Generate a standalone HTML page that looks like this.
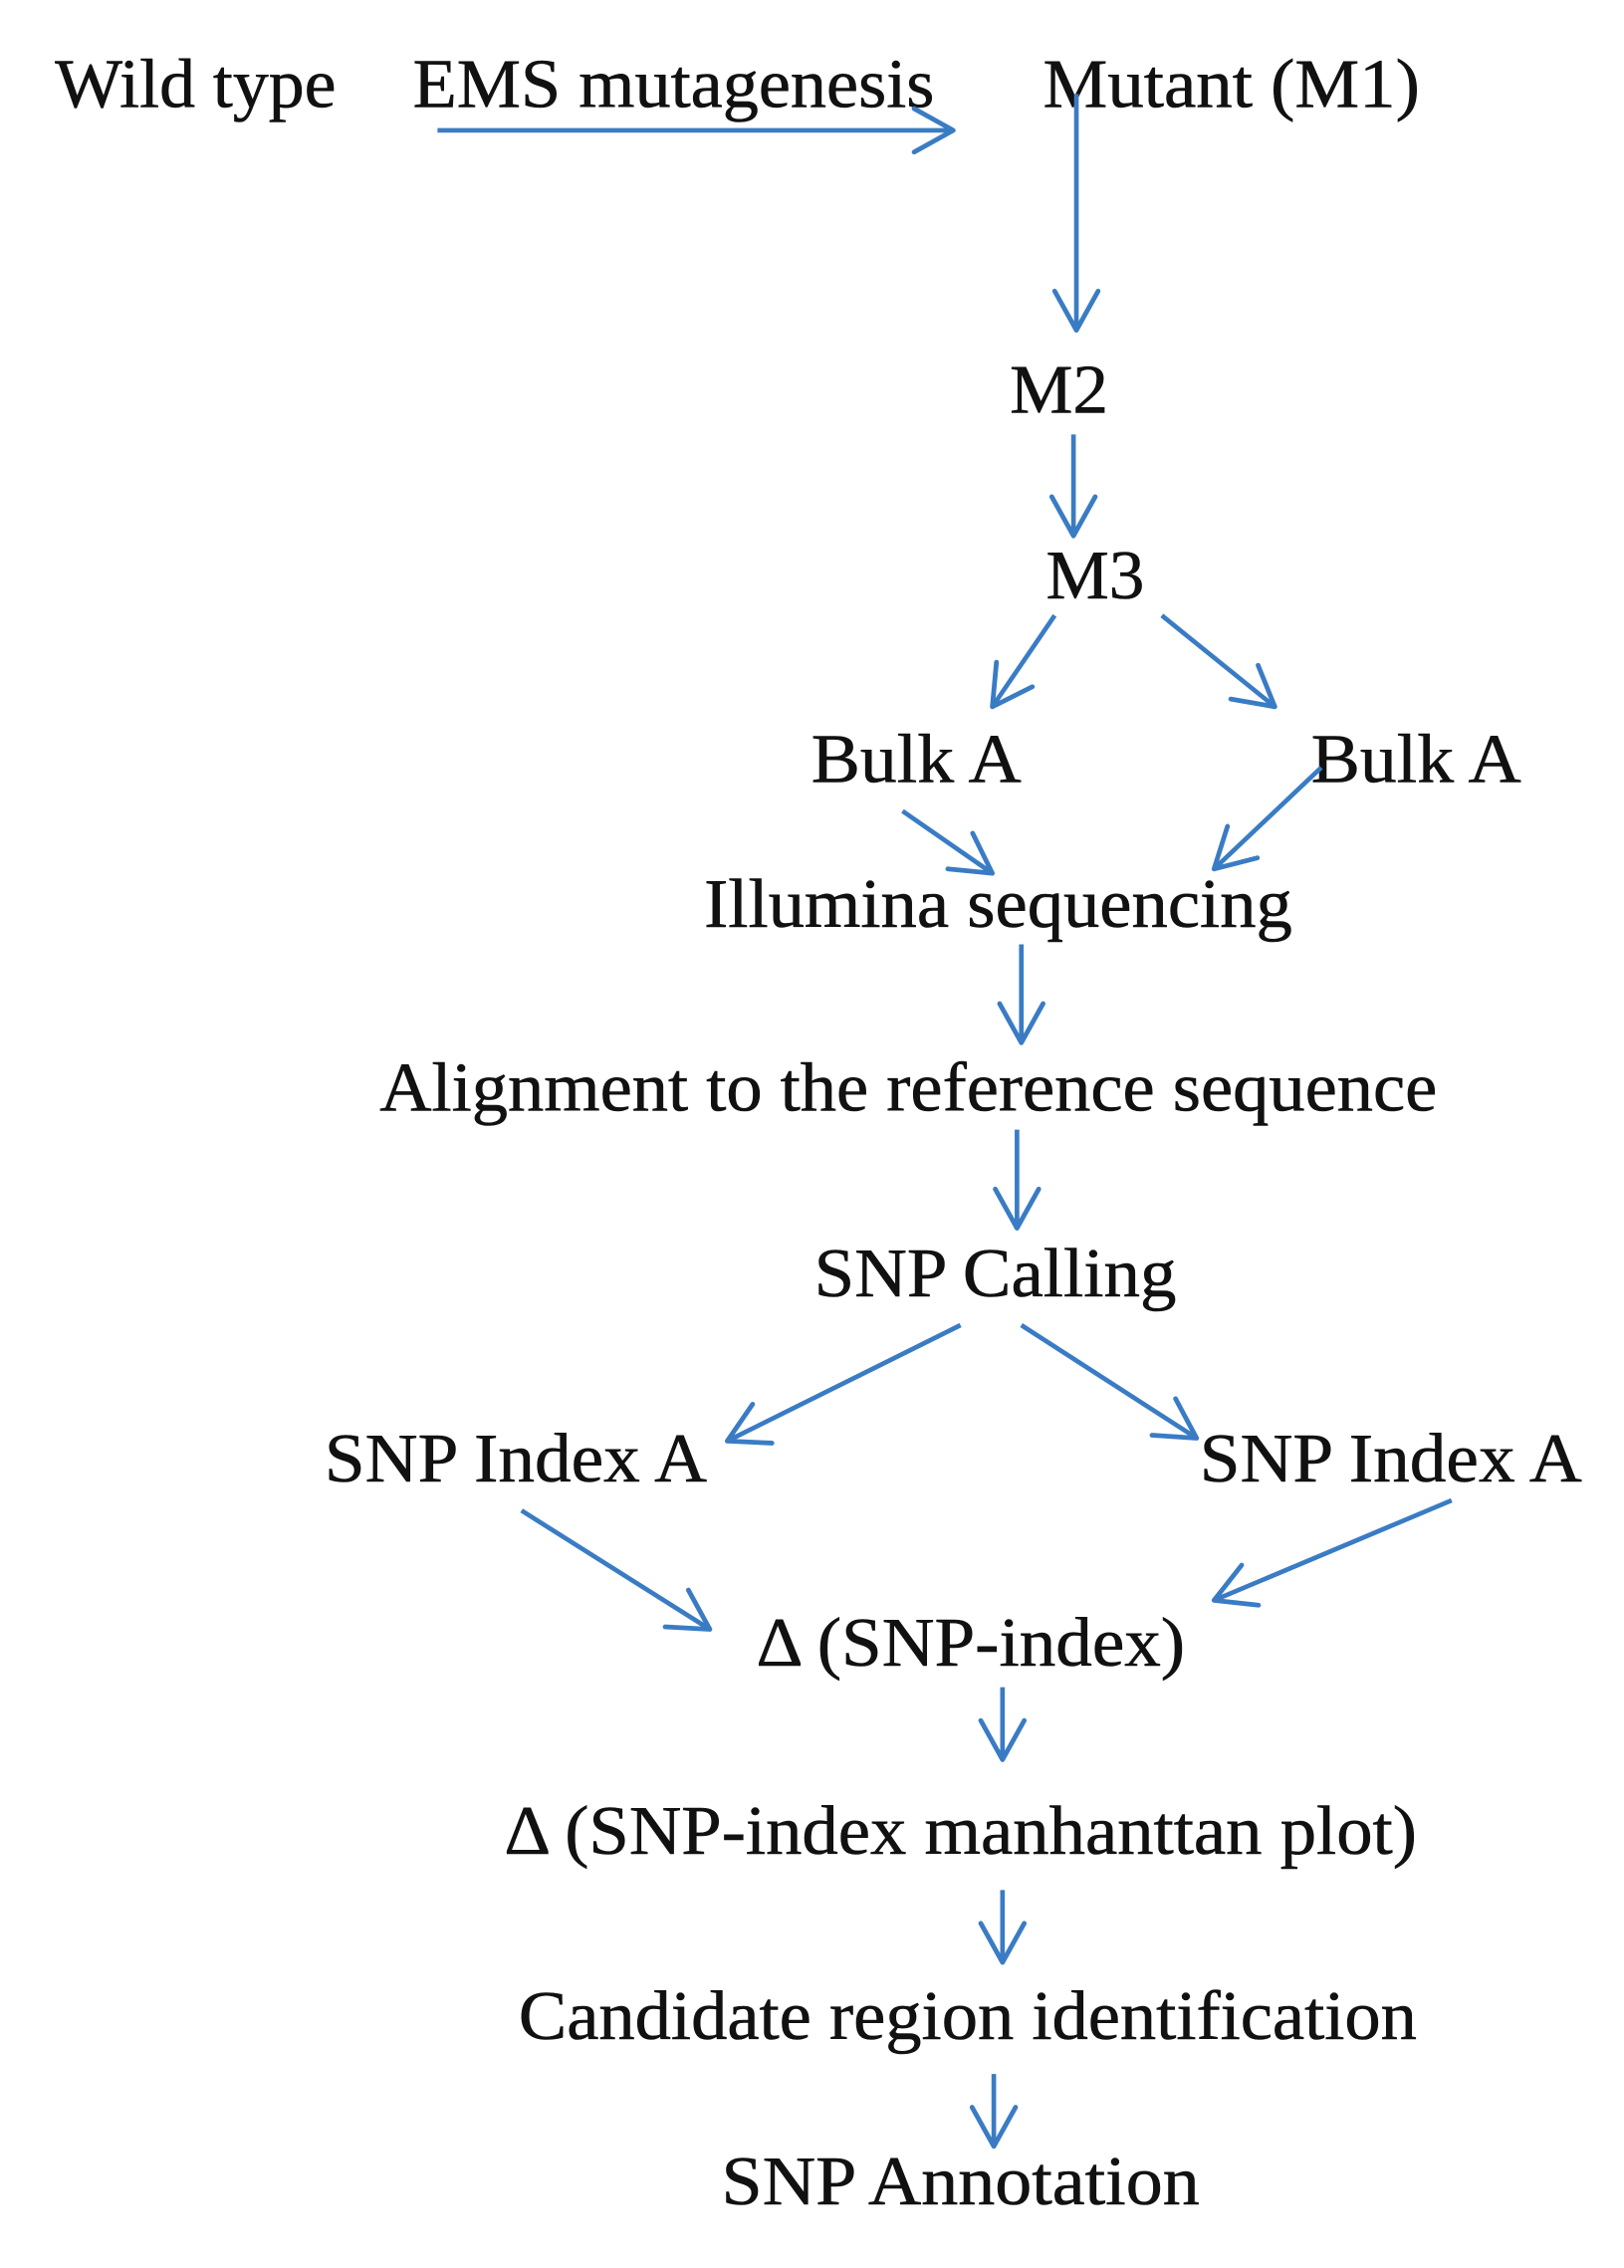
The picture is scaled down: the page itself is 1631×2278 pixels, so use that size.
<!DOCTYPE html>
<html><head><meta charset="utf-8"><style>
html,body{margin:0;padding:0;background:#fff;}
svg{display:block;}
text{font-family:"Liberation Serif",serif;font-size:48px;fill:#111;stroke:#111;stroke-width:0.4;}
</style></head><body>
<svg width="1631" height="2278" viewBox="0 0 1121 1566" preserveAspectRatio="none" xmlns="http://www.w3.org/2000/svg">
<defs>
<marker id="a" viewBox="0 0 20 20" refX="18" refY="10" markerWidth="30" markerHeight="30" markerUnits="userSpaceOnUse" orient="auto" overflow="visible">
<path d="M0,0 L18,10 L0,20" fill="none" stroke="#3a7cc4" stroke-width="2.2" stroke-linecap="round" stroke-linejoin="round"/>
</marker>
</defs>
<g>
<text x="38" y="74" textLength="194" lengthAdjust="spacingAndGlyphs">Wild type</text>
<text x="285" y="74" textLength="360" lengthAdjust="spacingAndGlyphs">EMS mutagenesis</text>
<text x="720" y="74" textLength="260" lengthAdjust="spacingAndGlyphs">Mutant (M1)</text>
<text x="697" y="285" textLength="68" lengthAdjust="spacingAndGlyphs">M2</text>
<text x="722" y="413" textLength="68" lengthAdjust="spacingAndGlyphs">M3</text>
<text x="560" y="540" textLength="145" lengthAdjust="spacingAndGlyphs">Bulk A</text>
<text x="905" y="540" textLength="145" lengthAdjust="spacingAndGlyphs">Bulk A</text>
<text x="486" y="640" textLength="406" lengthAdjust="spacingAndGlyphs">Illumina sequencing</text>
<text x="262" y="767" textLength="730" lengthAdjust="spacingAndGlyphs">Alignment to the reference sequence</text>
<text x="562" y="895" textLength="250" lengthAdjust="spacingAndGlyphs">SNP Calling</text>
<text x="224" y="1023" textLength="264" lengthAdjust="spacingAndGlyphs">SNP Index A</text>
<text x="828" y="1023" textLength="264" lengthAdjust="spacingAndGlyphs">SNP Index A</text>
<text x="522" y="1150" textLength="296" lengthAdjust="spacingAndGlyphs">Δ (SNP-index)</text>
<text x="348" y="1280" textLength="630" lengthAdjust="spacingAndGlyphs">Δ (SNP-index manhanttan plot)</text>
<text x="358" y="1408" textLength="620" lengthAdjust="spacingAndGlyphs">Candidate region identification</text>
<text x="498" y="1522" textLength="330" lengthAdjust="spacingAndGlyphs">SNP Annotation</text>
</g>
<g stroke="#3a7cc4" stroke-width="3.2" fill="none" marker-end="url(#a)">
<line x1="302" y1="90" x2="658" y2="90"/>
<line x1="743" y1="65" x2="743" y2="228"/>
<line x1="741" y1="300" x2="741" y2="370"/>
<line x1="728" y1="425" x2="685" y2="488"/>
<line x1="802" y1="425" x2="880" y2="488"/>
<line x1="623" y1="560" x2="685" y2="603"/>
<line x1="912" y1="530" x2="838" y2="600"/>
<line x1="705" y1="652" x2="705" y2="720"/>
<line x1="702" y1="780" x2="702" y2="848"/>
<line x1="663" y1="915" x2="502" y2="995"/>
<line x1="705" y1="915" x2="826" y2="993"/>
<line x1="360" y1="1043" x2="490" y2="1125"/>
<line x1="1002" y1="1036" x2="838" y2="1105"/>
<line x1="692" y1="1165" x2="692" y2="1215"/>
<line x1="692" y1="1305" x2="692" y2="1355"/>
<line x1="686" y1="1432" x2="686" y2="1482"/>
</g>
</svg>
</body></html>
